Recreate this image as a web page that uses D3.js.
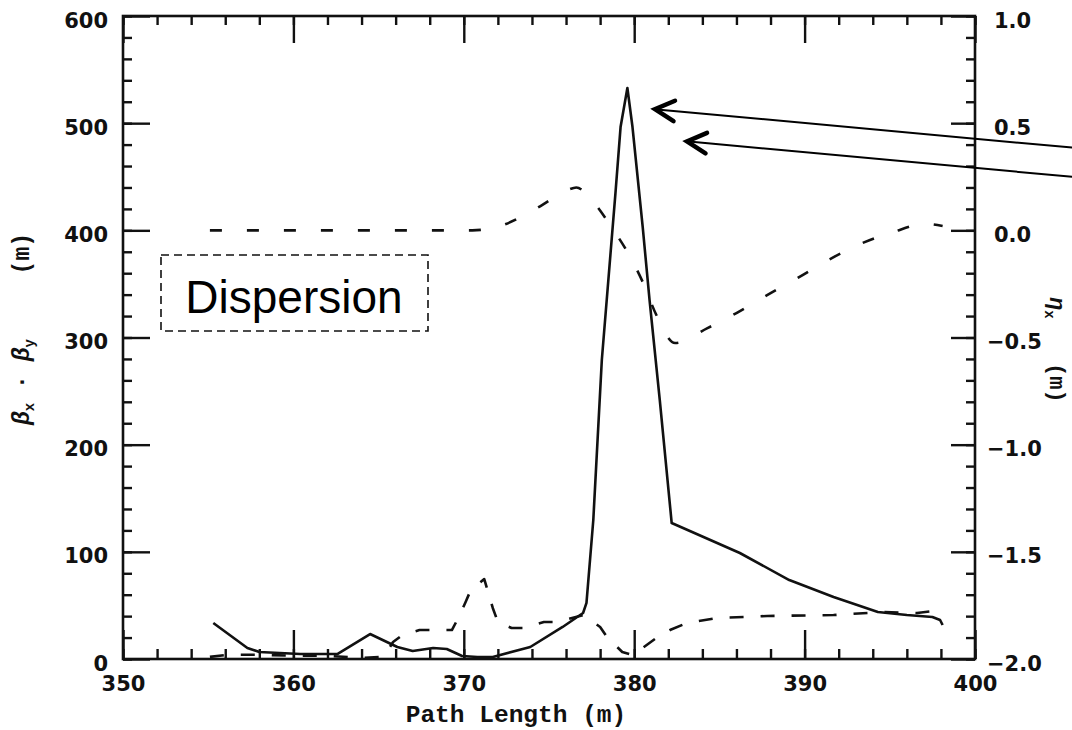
<!DOCTYPE html>
<html>
<head>
<meta charset="utf-8">
<script src="https://cdn.jsdelivr.net/npm/d3@7"></script>
<style>
  html, body { margin: 0; padding: 0; background: #fff; }
  svg { display: block; }
  .tick text { font-family: "DejaVu Sans", sans-serif; font-weight: bold; font-size: 21px; fill: #111; }
  .title { font-family: "Liberation Mono", monospace; font-weight: bold; fill: #111; }
</style>
</head>
<body>
<svg id="chart" width="1072" height="730"></svg>
<script>
// ////////////////////////////////////////////////////////////////////////////
// Data

// Solid trace: beta (m) against path length (m)
const betaMainPath = [355.3, 357.3, 358.0, 360.4, 362.6, 364.5, 366.1, 367.0, 368.2, 369.0,
  369.9, 370.8, 371.7, 373.9, 375.8, 377.0, 377.2, 377.6, 378.1, 378.9, 379.2, 379.6,
  379.9, 380.5, 380.9, 381.5, 382.2, 386.2, 389.1, 391.7, 394.3, 396.0, 397.5, 397.95, 398.1];
const betaMain = [33.6, 10.3, 6.5, 4.7, 4.7, 23.3, 11.2, 7.5, 10.3, 9.3,
  2.8, 1.9, 1.9, 11.2, 29.9, 42.9, 52.3, 129.7, 279, 434.8, 496.4, 532.8,
  496.4, 403, 335, 241.7, 126.9, 98.9, 73.7, 57.9, 43.9, 41.1, 39.2, 36.4, 31.7];

// Long dashed trace: second beta (m)
const betaSecondPath = [355.1, 356.2, 358, 360, 362, 364, 365.3, 365.85, 366.4, 367.4, 368.2,
  369.3, 369.7, 370.1, 370.4, 371.2, 371.7, 372.0, 372.8, 373.5, 374.7, 375.5, 377.0,
  378.0, 378.4, 379.3, 379.9, 380.5, 381.3, 382.1, 383.1, 384.9, 387.8, 391.7, 394.6,
  396.6, 398.1];
const betaSecond = [2, 4, 4, 3, 3, 1, 2, 15.9, 22.4, 27, 27,
  27, 39, 53, 64, 74.6, 47.6, 34.5, 28.9, 28.9, 34.5, 34.5, 41,
  29.9, 20.5, 6.5, 3.7, 10.3, 19.6, 27, 33.6, 38.3, 40.1, 41, 43.9,
  42.9, 45.7];

// Short dashed trace: dispersion (m), right axis
const dispersionPath = [355.1, 370.5, 372.3, 374.3, 376.1, 376.6, 377.5, 378.7, 379.6,
  380.5, 381.3, 382.4, 384.3, 386.0, 387.8, 389.6, 391.4, 393.4, 395.2, 397.1, 398.1];
const dispersion = [0.0, 0.0, 0.025, 0.104, 0.188, 0.2, 0.141, 0.011, -0.101,
  -0.241, -0.395, -0.526, -0.456, -0.386, -0.302, -0.222, -0.138, -0.059, -0.008, 0.03, 0.02];

// Tick labels
const pathTicks = [350, 360, 370, 380, 390, 400];
const betaTicks = [0, 100, 200, 300, 400, 500, 600];
const dispersionTicks = [-2.0, -1.5, -1.0, -0.5, 0.0, 0.5, 1.0];

// Annotation arrows point at the peak (data coords of the tips)
const arrowTipPath = [381.22, 383.1];
const arrowTipBeta = [513, 483];

// ////////////////////////////////////////////////////////////////////////////
// Layout

const svg = d3.select('#chart');
const frame = { left: 123, right: 975, top: 16, bottom: 659 };
const ink = '#111';

svg.append('rect').attr('width', 1072).attr('height', 730).attr('fill', '#fff');

const x = d3.scaleLinear().domain([350, 400]).range([frame.left, frame.right]);
const yLeft = d3.scaleLinear().domain([0, 600]).range([frame.bottom, frame.top]);
const yRight = d3.scaleLinear().domain([-2, 1]).range([frame.bottom, frame.top]);

const styleAxis = (g) => {
  g.select('.domain').remove();
  g.selectAll('line').attr('stroke', ink).attr('stroke-width', 2.4);
};

// minor ticks first, then the labelled major ticks
const addAxis = (axis, transform) => svg.append('g')
  .attr('transform', transform)
  .call(axis)
  .call(styleAxis);

// bottom
addAxis(d3.axisBottom(x).tickValues(d3.range(350, 400.1, 2)).tickSize(-10).tickFormat(''),
  `translate(0,${frame.bottom})`);
addAxis(d3.axisBottom(x).tickValues(pathTicks).tickSize(-29).tickPadding(17).tickFormat(d3.format('d')),
  `translate(0,${frame.bottom})`);

// top (no labels)
addAxis(d3.axisTop(x).tickValues(d3.range(350, 400.1, 2)).tickSize(-9).tickFormat(''),
  `translate(0,${frame.top})`);
addAxis(d3.axisTop(x).tickValues(pathTicks).tickSize(-27).tickFormat(''),
  `translate(0,${frame.top})`);

// left
addAxis(d3.axisLeft(yLeft).tickValues(d3.range(0, 600.1, 20)).tickSize(-9).tickFormat(''),
  `translate(${frame.left},0)`);
addAxis(d3.axisLeft(yLeft).tickValues(betaTicks).tickSize(-27).tickPadding(15).tickFormat(d3.format('d')),
  `translate(${frame.left},0)`)
  .selectAll('text').attr('dy', '0.53em');

// right
addAxis(d3.axisRight(yRight).tickValues(d3.range(-20, 10.1, 1).map((v) => v / 10)).tickSize(-9).tickFormat(''),
  `translate(${frame.right},0)`);
addAxis(d3.axisRight(yRight).tickValues(dispersionTicks).tickSize(-24).tickPadding(12).tickFormat(d3.format('.1f')),
  `translate(${frame.right},0)`)
  .selectAll('text')
  .attr('dy', '0.53em')
  .attr('dx', (d) => (d >= 0 ? 7 : 0));

// frame
svg.append('rect')
  .attr('x', frame.left)
  .attr('y', frame.top)
  .attr('width', frame.right - frame.left)
  .attr('height', frame.bottom - frame.top)
  .attr('fill', 'none')
  .attr('stroke', ink)
  .attr('stroke-width', 2.6);

// ////////////////////////////////////////////////////////////////////////////
// Traces

const lineLeft = d3.line().x((d) => x(d[0])).y((d) => yLeft(d[1]));
const lineRight = d3.line().x((d) => x(d[0])).y((d) => yRight(d[1])).curve(d3.curveMonotoneX);

const traces = [
  { pts: d3.zip(betaMainPath, betaMain), line: lineLeft, dash: null },
  { pts: d3.zip(betaSecondPath, betaSecond), line: lineLeft, dash: '14,17' },
  { pts: d3.zip(dispersionPath, dispersion), line: lineRight, dash: '12,25' },
];

traces.forEach((t) => {
  svg.append('path')
    .attr('d', t.line(t.pts))
    .attr('fill', 'none')
    .attr('stroke', ink)
    .attr('stroke-width', 2.6)
    .attr('stroke-linejoin', 'round')
    .attr('stroke-dasharray', t.dash);
});

// ////////////////////////////////////////////////////////////////////////////
// Axis titles

svg.append('text')
  .attr('class', 'title')
  .attr('x', 516)
  .attr('y', 722)
  .attr('text-anchor', 'middle')
  .attr('font-size', 24.5)
  .text('Path Length (m)');

const leftTitle = svg.append('text')
  .attr('class', 'title')
  .attr('transform', 'translate(29,425) rotate(-90)')
  .attr('font-size', 23);
leftTitle.append('tspan').attr('font-style', 'italic').text('β');
leftTitle.append('tspan').attr('font-size', 14).attr('dy', 5).text('x');
leftTitle.append('tspan').attr('dy', -5).text(' · ');
leftTitle.append('tspan').attr('font-style', 'italic').text('β');
leftTitle.append('tspan').attr('font-size', 14).attr('dy', 5).text('y');

svg.append('text')
  .attr('class', 'title')
  .attr('transform', 'translate(29,233) rotate(-90)')
  .attr('text-anchor', 'end')
  .attr('font-size', 23)
  .text('(m)');

// right title sits against the page edge, as in the scan
const rightTitle = svg.append('text')
  .attr('class', 'title')
  .attr('transform', 'translate(1050,297) rotate(90)')
  .attr('font-size', 22);
rightTitle.append('tspan').attr('font-style', 'italic').text('η');
rightTitle.append('tspan').attr('font-size', 14).attr('dy', 5).text('x');

svg.append('text')
  .attr('class', 'title')
  .attr('transform', 'translate(1050,363) rotate(90)')
  .attr('font-size', 22)
  .text('(m)');

// ////////////////////////////////////////////////////////////////////////////
// Annotations

svg.append('rect')
  .attr('x', 161)
  .attr('y', 255)
  .attr('width', 267)
  .attr('height', 76)
  .attr('fill', 'none')
  .attr('stroke', ink)
  .attr('stroke-width', 1.6)
  .attr('stroke-dasharray', '8,5');

svg.append('text')
  .attr('x', 294)
  .attr('y', 313)
  .attr('text-anchor', 'middle')
  .attr('font-family', '"Liberation Sans", Arial, sans-serif')
  .attr('font-size', 46)
  .attr('fill', '#000')
  .text('Dispersion');

d3.zip(arrowTipPath, arrowTipBeta).forEach(([p, b]) => {
  const tx = x(p);
  const ty = yLeft(b);
  const slope = 0.092;
  svg.append('line')
    .attr('x1', tx + 2).attr('y1', ty + 2 * slope)
    .attr('x2', 1090).attr('y2', ty + (1090 - tx) * slope)
    .attr('stroke', '#000')
    .attr('stroke-width', 2);
  svg.append('path')
    .attr('d', `M${tx + 20},${ty - 8.5} L${tx},${ty} L${tx + 18.5},${ty + 12}`)
    .attr('fill', 'none')
    .attr('stroke', '#000')
    .attr('stroke-width', 4.5)
    .attr('stroke-linecap', 'round')
    .attr('stroke-linejoin', 'miter');
});
</script>
</body>
</html>
